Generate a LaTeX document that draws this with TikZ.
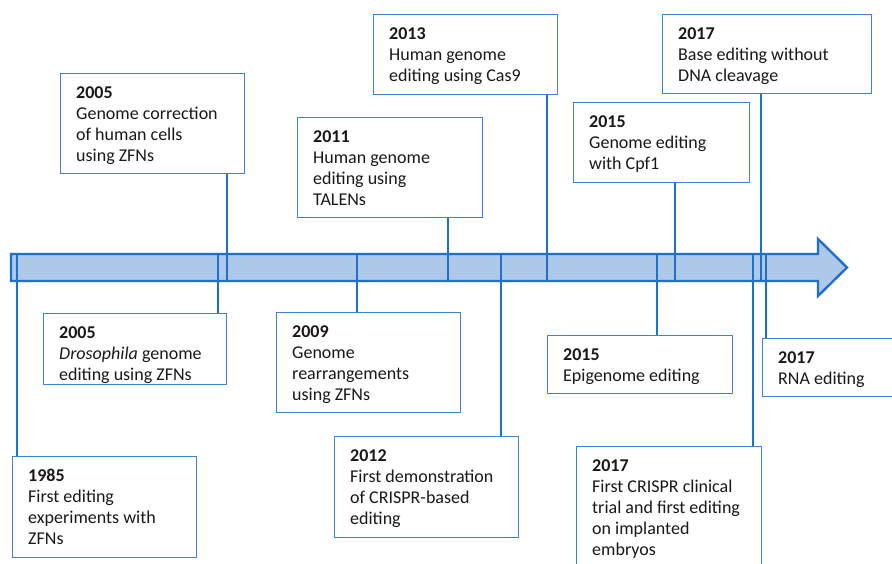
\documentclass[tikz,border=0pt]{standalone}
\usepackage{fontspec}
\setmainfont{Carlito}
\definecolor{lineblue}{HTML}{1F6FCC}
\definecolor{boxblue}{HTML}{3A82D6}
\definecolor{arrowfill}{HTML}{ADC8E8}
\tikzset{
  evbox/.style={draw=boxblue, line width=1.4pt, fill=white, anchor=north west, inner sep=0pt},
  evtext/.style={anchor=north west, inner sep=0pt, align=left, font=\fontsize{18}{21}\selectfont, text=black!90},
  conn/.style={draw=lineblue, line width=2.3pt},
  timeline/.style={draw=lineblue, line width=2.4pt, fill=arrowfill, line join=miter}
}
\newcommand{\yr}[1]{\textbf{#1}}
\begin{document}
\begin{tikzpicture}[x=1pt,y=-1pt]
\clip (0,0) rectangle (892,563);
\fill[white] (0,0) rectangle (892,563);
% timeline arrow
\draw[timeline] (11,254) -- (818,254) -- (818,239) -- (847,267.5) -- (818,296) -- (818,281) -- (11,281) -- cycle;
% connector coordinates on the shaft
\coordinate (s1) at (227,281);
\coordinate (s2) at (448,281);
\coordinate (s3) at (547,281);
\coordinate (s4) at (675,281);
\coordinate (s5) at (761,281);
\coordinate (s6) at (218,254);
\coordinate (s7) at (357,254);
\coordinate (s8) at (17,254);
\coordinate (s9) at (501,254);
\coordinate (s10) at (657,254);
\coordinate (s11) at (766,254);
\coordinate (s12) at (753,254);
% boxes
\node[evbox, minimum width=184pt, minimum height=100pt] (b1) at (60,73) {};
\node[evbox, minimum width=185pt, minimum height=100pt] (b2) at (297,117) {};
\node[evbox, minimum width=184pt, minimum height=80pt] (b3) at (373,14) {};
\node[evbox, minimum width=176pt, minimum height=80pt] (b4) at (573,102) {};
\node[evbox, minimum width=209pt, minimum height=79pt] (b5) at (662,14) {};
\node[evbox, minimum width=183pt, minimum height=71pt] (b6) at (43,313) {};
\node[evbox, minimum width=184pt, minimum height=100pt] (b7) at (276,312) {};
\node[evbox, minimum width=184pt, minimum height=101pt] (b8) at (12,456) {};
\node[evbox, minimum width=184pt, minimum height=101pt] (b9) at (334,436) {};
\node[evbox, minimum width=185pt, minimum height=58pt] (b10) at (547,335) {};
\node[evbox, minimum width=160pt, minimum height=58pt] (b11) at (762,338) {};
\node[evbox, minimum width=185pt, minimum height=140pt] (b12) at (576,446) {};
% connectors
\draw[conn] (b1.south -| s1) -- (s1);
\draw[conn] (b2.south -| s2) -- (s2);
\draw[conn] (b3.south -| s3) -- (s3);
\draw[conn] (b4.south -| s4) -- (s4);
\draw[conn] (b5.south -| s5) -- (s5);
\draw[conn] (s6) -- (s6 |- b6.north);
\draw[conn] (s7) -- (s7 |- b7.north);
\draw[conn] (s8) -- (s8 |- b8.north);
\draw[conn] (s9) -- (s9 |- b9.north);
\draw[conn] (s10) -- (s10 |- b10.north);
\draw[conn] (s11) -- (s11 |- b11.north);
\draw[conn] (s12) -- (s12 |- b12.north);
% texts
\node[evtext] (t1) at ([xshift=16pt,yshift=-13pt]b1.north west) {\yr{2005}\\Genome correction\\of human cells\\using ZFNs};
\node[evtext] (t2) at ([xshift=16pt,yshift=-13pt]b2.north west) {\yr{2011}\\Human genome\\editing using\\TALENs};
\node[evtext] (t3) at ([xshift=16pt,yshift=-13pt]b3.north west) {\yr{2013}\\Human genome\\editing using Cas9};
\node[evtext] (t4) at ([xshift=16pt,yshift=-13pt]b4.north west) {\yr{2015}\\Genome editing\\with Cpf1};
\node[evtext] (t5) at ([xshift=16pt,yshift=-13pt]b5.north west) {\yr{2017}\\Base editing without\\DNA cleavage};
\node[evtext] (t6) at ([xshift=16pt,yshift=-13pt]b6.north west) {\yr{2005}\\\textit{Drosophila} genome\\editing using ZFNs};
\node[evtext] (t7) at ([xshift=16pt,yshift=-13pt]b7.north west) {\yr{2009}\\Genome\\rearrangements\\using ZFNs};
\node[evtext] (t8) at ([xshift=16pt,yshift=-13pt]b8.north west) {\yr{1985}\\First editing\\experiments with\\ZFNs};
\node[evtext] (t9) at ([xshift=16pt,yshift=-13pt]b9.north west) {\yr{2012}\\First demonstration\\of CRISPR-based\\editing};
\node[evtext] (t10) at ([xshift=16pt,yshift=-13pt]b10.north west) {\yr{2015}\\Epigenome editing};
\node[evtext] (t11) at ([xshift=16pt,yshift=-13pt]b11.north west) {\yr{2017}\\RNA editing};
\node[evtext] (t12) at ([xshift=16pt,yshift=-13pt]b12.north west) {\yr{2017}\\First CRISPR clinical\\trial and first editing\\on implanted\\embryos};
\end{tikzpicture}
\end{document}
